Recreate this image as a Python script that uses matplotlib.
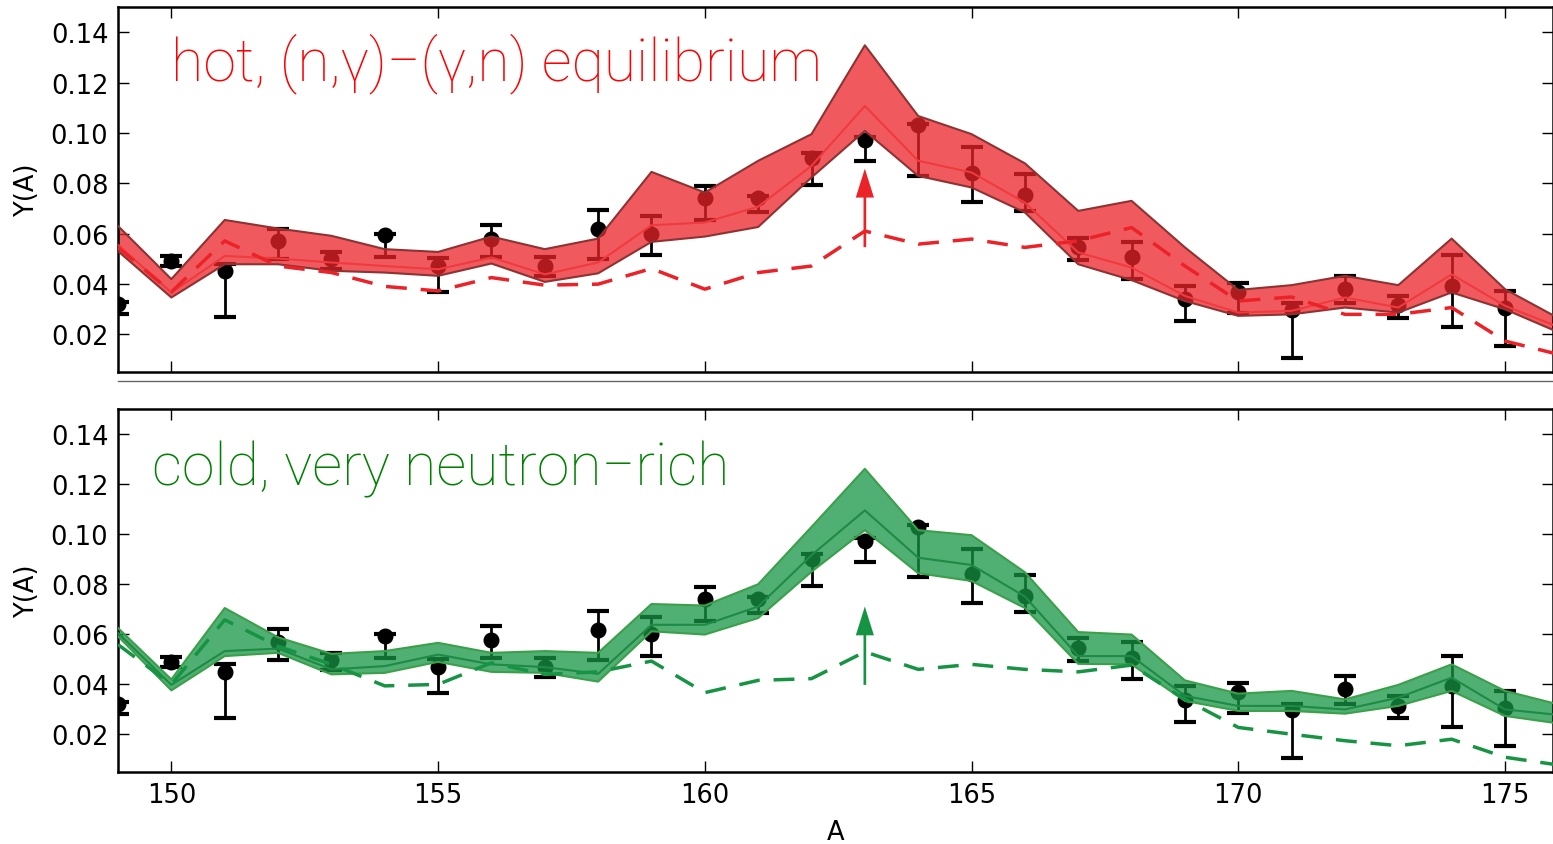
import matplotlib
matplotlib.use('Agg')
import matplotlib.pyplot as plt
from matplotlib.lines import Line2D
import numpy as np

# mass numbers
A_model = np.arange(149, 177)
A_obs = np.arange(149, 176)

# observed abundances with lower / upper error bar ends
obs_y = [0.032, 0.049, 0.045, 0.0571, 0.0498, 0.0593, 0.0471, 0.0578, 0.0471, 0.0617,
         0.0600, 0.0740, 0.0740, 0.0902, 0.0972, 0.1030, 0.0839, 0.0753, 0.0545, 0.0505,
         0.0339, 0.0368, 0.0297, 0.0381, 0.0315, 0.0392, 0.0306]
obs_lo = [0.028, 0.047, 0.0267, 0.0498, 0.0458, 0.0506, 0.0367, 0.0506, 0.0430, 0.0498,
          0.0515, 0.0654, 0.0684, 0.0793, 0.0889, 0.0827, 0.0727, 0.0688, 0.0494, 0.0421,
          0.0251, 0.0286, 0.0107, 0.0323, 0.0266, 0.0229, 0.0154]
obs_hi = [0.033, 0.051, 0.048, 0.062, 0.0526, 0.0600, 0.0502, 0.0633, 0.0507, 0.0694,
          0.0670, 0.0787, 0.0748, 0.0919, 0.0985, 0.1035, 0.0942, 0.0836, 0.0584, 0.0568,
          0.0392, 0.0405, 0.0323, 0.0432, 0.0352, 0.0514, 0.0372]

# hot, (n,g)-(g,n) equilibrium model
hot_upper = [0.063, 0.0419, 0.0654, 0.062, 0.0591, 0.0538, 0.0527, 0.0588, 0.0538, 0.058,
             0.0845, 0.0763, 0.0889, 0.0995, 0.1348, 0.1067, 0.0995, 0.0879, 0.069, 0.073,
             0.0545, 0.0376, 0.0395, 0.0432, 0.0395, 0.058, 0.0379, 0.0264]
hot_mid = [0.0555, 0.0366, 0.0511, 0.0501, 0.0485, 0.0471, 0.0458, 0.0505, 0.0438, 0.0485,
           0.0633, 0.0644, 0.0707, 0.0869, 0.1107, 0.0889, 0.0843, 0.0723, 0.0525, 0.0465,
           0.0352, 0.0286, 0.0293, 0.0346, 0.0306, 0.0438, 0.0313, 0.0229]
hot_lower = [0.053, 0.0346, 0.0478, 0.0478, 0.0452, 0.0445, 0.0432, 0.0481, 0.0408, 0.0442,
             0.0567, 0.0588, 0.0626, 0.0823, 0.1008, 0.0829, 0.0783, 0.0684, 0.0478, 0.0415,
             0.0332, 0.0273, 0.0279, 0.0306, 0.0286, 0.0366, 0.0299, 0.0208]
hot_dashed = [0.0545, 0.0368, 0.0571, 0.0471, 0.0445, 0.039, 0.0372, 0.0425, 0.0395, 0.0399,
              0.0461, 0.0379, 0.0445, 0.0471, 0.061, 0.0558, 0.0578, 0.0545, 0.0571, 0.0624,
              0.0471, 0.0332, 0.0348, 0.0279, 0.0279, 0.0306, 0.0173, 0.012]

# cold, very neutron-rich model
cold_upper = [0.0625, 0.042, 0.0705, 0.0588, 0.0522, 0.0533, 0.0566, 0.0526, 0.0533, 0.0526,
              0.0721, 0.0715, 0.080, 0.1029, 0.1261, 0.1016, 0.0996, 0.0848, 0.0609, 0.0599,
              0.0416, 0.0363, 0.0374, 0.034, 0.0398, 0.048, 0.0374, 0.032]
cold_mid = [0.0605, 0.0398, 0.0533, 0.0543, 0.046, 0.0473, 0.0519, 0.048, 0.0469, 0.0442,
            0.0638, 0.0638, 0.0711, 0.0916, 0.1095, 0.0906, 0.0877, 0.0751, 0.0513, 0.0513,
            0.0354, 0.0314, 0.0314, 0.030, 0.0347, 0.0427, 0.030, 0.0278]
cold_lower = [0.0592, 0.0376, 0.0513, 0.0526, 0.044, 0.0446, 0.049, 0.045, 0.0446, 0.0411,
              0.0612, 0.0599, 0.0665, 0.085, 0.1016, 0.0844, 0.0813, 0.0705, 0.0482, 0.048,
              0.0334, 0.0294, 0.0294, 0.0283, 0.0314, 0.0374, 0.0274, 0.0244]
cold_dashed = [0.0559, 0.040, 0.0658, 0.0552, 0.048, 0.0394, 0.040, 0.0486, 0.044, 0.045,
               0.0493, 0.0367, 0.0416, 0.0423, 0.053, 0.046, 0.048, 0.046, 0.045, 0.0477,
               0.034, 0.0228, 0.0201, 0.0175, 0.0155, 0.0181, 0.0109, 0.0078]

# arrows at A=163 (base, tip)
hot_arrow = (163, 0.0546, 0.0858)
cold_arrow = (163, 0.0398, 0.0711)

RED = '#eb2329'
GREEN = '#169444'

fig = plt.figure(figsize=(15.53, 8.45), dpi=100)
ax1 = fig.add_axes([0.076, 0.5586, 0.924, 0.4319])
ax2 = fig.add_axes([0.076, 0.0852, 0.924, 0.4296])


def draw_panel(ax, upper, mid, lower, dashed, color, edge, midcolor, arrow, label, label_color, label_pos):
    err = [np.array(obs_y) - np.array(obs_lo), np.array(obs_hi) - np.array(obs_y)]
    ax.errorbar(A_obs, obs_y, yerr=err, fmt='o', color='k', ms=10.5, elinewidth=2,
                capsize=8, capthick=3, zorder=1)
    ax.fill_between(A_model, lower, upper, facecolor=color, alpha=0.75, edgecolor='none', zorder=2)
    ax.plot(A_model, upper, color=edge, lw=1.5, zorder=3)
    ax.plot(A_model, lower, color=edge, lw=1.5, zorder=3)
    ax.plot(A_model, mid, color=midcolor, lw=1.5, zorder=3)
    ax.plot(A_model, dashed, '--', color=color, lw=2.5, dashes=(6, 4), zorder=4)

    x0, y0, y1 = arrow
    ax.arrow(x0, y0, 0, y1 - y0, width=0.05, head_width=0.34, head_length=0.0115,
             length_includes_head=True, color=color, lw=0, zorder=5)

    ax.text(label_pos[0], label_pos[1], label, color=label_color, fontsize=42.5,
            family=['Roboto', 'DejaVu Sans'], fontweight='light', va='baseline', ha='left')

    ax.set_xlim(149, 175.9)
    ax.set_ylim(0.005, 0.15)
    ax.set_xticks([150, 155, 160, 165, 170, 175])
    ax.set_yticks([0.02, 0.04, 0.06, 0.08, 0.10, 0.12, 0.14])
    ax.set_yticklabels(['0.02', '0.04', '0.06', '0.08', '0.10', '0.12', '0.14'])
    ax.tick_params(direction='in', top=True, right=True, length=8, width=1,
                   labelsize=18.5, pad=7)
    for s in ax.spines.values():
        s.set_linewidth(1.8)
    ax.set_ylabel('Y(A)', fontsize=18.5, labelpad=8)


draw_panel(ax1, hot_upper, hot_mid, hot_lower, hot_dashed, RED, '#8e3232', '#f03a3e',
           hot_arrow, 'hot, (n,\u03b3)\u2212(\u03b3,n) equilibrium', 'red', (150.0, 0.1213))
draw_panel(ax2, cold_upper, cold_mid, cold_lower, cold_dashed, GREEN, '#3c9f4a', '#1f8a45',
           cold_arrow, 'cold, very neutron\u2212rich', 'green', (149.63, 0.120))

ax1.tick_params(labelbottom=False)
ax2.set_xlabel('A', fontsize=18.5, labelpad=8)

# separator between the panels
fig.add_artist(Line2D([0.076, 1.0], [0.548, 0.548], color='0.4', lw=1))

fig.savefig('out.png', dpi=100)
